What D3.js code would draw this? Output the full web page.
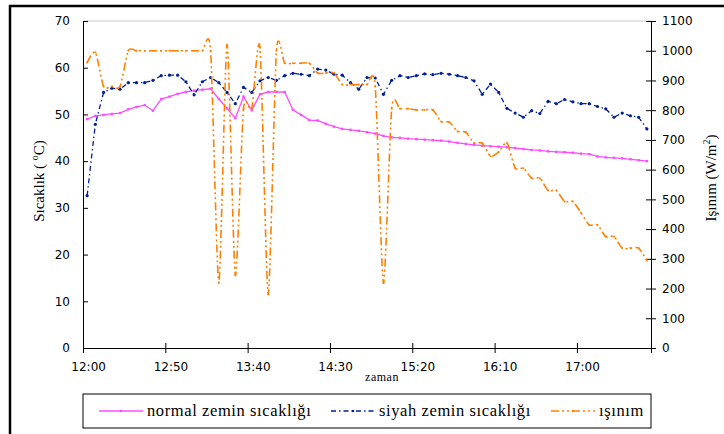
<!DOCTYPE html>
<html>
<head>
<meta charset="utf-8">
<script src="https://cdn.jsdelivr.net/npm/d3@7"></script>
<style>
  body { margin: 0; background: #fff; }
  svg { display: block; }
  .tick text { font-family: "DejaVu Sans", Verdana, sans-serif; font-size: 12px; fill: #000; }
  .domain, .tick line { stroke: #000; }
  .serif { font-family: "Liberation Serif", "Times New Roman", serif; fill: #000; }
</style>
</head>
<body>
<svg id="chart"></svg>
<script>
const width = 724;
const height = 434;

// x-axis labels shown every 10 categories (5 min steps)
const tickLabels = ["12:00", "12:50", "13:40", "14:30", "15:20", "16:10", "17:00"];

// normal zemin sıcaklığı (°C)
const normalTemp = [
  49.0, 49.7, 49.9, 50.1, 50.3, 51.1, 51.6, 52.0, 50.8, 53.3,
  53.8, 54.4, 54.8, 55.1, 55.3, 55.5, 53.3, 51.3, 49.2, 53.8,
  50.9, 54.3, 54.8, 54.8, 54.8, 51.0, 49.9, 48.8, 48.7, 48.0,
  47.4, 46.9, 46.7, 46.5, 46.2, 45.9, 45.4, 45.1, 45.0, 44.8,
  44.7, 44.6, 44.5, 44.4, 44.2, 43.9, 43.7, 43.5, 43.3, 43.2,
  43.1, 43.0, 42.8, 42.6, 42.4, 42.3, 42.1, 42.0, 41.9, 41.8,
  41.6, 41.5, 41.0, 40.8, 40.7, 40.6, 40.4, 40.2, 40.0
];

// siyah zemin sıcaklığı (°C)
const blackTemp = [
  32.6, 47.9, 54.7, 55.6, 55.4, 56.8, 56.8, 56.8, 57.3, 58.3,
  58.4, 58.4, 57.0, 54.2, 57.0, 57.9, 56.8, 54.7, 52.3, 55.8,
  54.7, 57.2, 57.9, 57.3, 58.3, 58.8, 58.6, 58.3, 59.7, 59.5,
  58.6, 58.4, 56.8, 55.4, 57.9, 57.8, 54.3, 57.3, 58.3, 57.9,
  58.3, 58.7, 58.5, 58.8, 58.6, 58.3, 57.9, 57.2, 54.3, 56.5,
  54.7, 51.3, 50.3, 49.4, 50.8, 50.2, 52.8, 52.3, 53.2, 52.7,
  52.3, 52.3, 51.7, 51.2, 49.4, 50.3, 49.7, 49.4, 46.9
];

// ışınım (W/m2)
const radiation = [
  960, 995, 880, 880, 880, 1000, 1000, 1000, 1000, 1000,
  1000, 1000, 1000, 1000, 1000, 1000, 219, 1020, 245, 805,
  805, 1010, 180, 1000, 958, 958, 958, 958, 925, 925,
  925, 886, 886, 886, 886, 880, 218, 805, 805, 805,
  801, 801, 801, 762, 760, 729, 726, 690, 689, 645,
  660, 690, 605, 605, 571, 571, 530, 530, 493, 493,
  455, 414, 414, 375, 375, 336, 336, 336, 294
];

const seriesNames = ["normal zemin sıcaklığı", "siyah zemin sıcaklığı", "ışınım"];
const colors = ["#ff4cff", "#001f96", "#ff8000"];
const dashes = [null, "5,3,1.5,3", "8,3,2,3,2,3"];

const plotLeft = 83, plotRight = 651, plotTop = 21, plotBottom = 348;

const categories = d3.range(normalTemp.length);

const svg = d3.select("#chart").attr("width", width).attr("height", height);

// outer frame
svg.append("path")
  .attr("d", "M10," + (height + 10) + "V6H" + (width + 10))
  .attr("fill", "none")
  .attr("stroke", "#000")
  .attr("stroke-width", 2.5);

const xBand = d3.scaleBand().domain(categories).range([plotLeft, plotRight]);
const xLin = d3.scaleLinear().domain([0, categories.length]).range([plotLeft, plotRight]);
const yLeft = d3.scaleLinear().domain([0, 70]).range([plotBottom, plotTop]);
const yRight = d3.scaleLinear().domain([0, 1100]).range([plotBottom, plotTop]);

const cx = (i) => xBand(i) + xBand.bandwidth() / 2;

// plot area top border
svg.append("line")
  .attr("x1", plotLeft).attr("x2", plotRight)
  .attr("y1", plotTop).attr("y2", plotTop)
  .attr("stroke", "#c8c8c8");

// axes
const xAxis = d3.axisBottom(xLin)
  .tickValues(d3.range(0, 61, 10))
  .tickFormat((d, i) => tickLabels[i])
  .tickSizeOuter(0)
  .tickSize(5)
  .tickPadding(9);

svg.append("g")
  .attr("transform", "translate(0," + plotBottom + ")")
  .call(xAxis)
  .call(g => g.selectAll(".tick line").attr("y1", -5).attr("y2", 5))
  .call(g => g.selectAll(".tick text").attr("dx", xBand.bandwidth() / 2 + 1));

svg.append("g")
  .attr("transform", "translate(" + plotLeft + ",0)")
  .call(d3.axisLeft(yLeft).tickValues(d3.range(0, 71, 10)).tickSize(5).tickSizeOuter(0).tickPadding(8))
  .call(g => g.selectAll(".tick line").attr("x2", 5));

svg.append("g")
  .attr("transform", "translate(" + plotRight + ",0)")
  .call(d3.axisRight(yRight).tickValues(d3.range(0, 1101, 100)).tickFormat(d3.format("d"))
    .tickSize(5).tickSizeOuter(0).tickPadding(6))
  .call(g => g.selectAll(".tick line").attr("x1", -5));

// axis titles
svg.append("text")
  .attr("class", "serif")
  .attr("transform", "translate(44,181) rotate(-90)")
  .attr("text-anchor", "middle")
  .attr("font-size", 15)
  .html('Sıcaklık ( <tspan dy="-6" font-size="10">o</tspan><tspan dy="6">C)</tspan>');

svg.append("text")
  .attr("class", "serif")
  .attr("transform", "translate(716,178) rotate(-90)")
  .attr("text-anchor", "middle")
  .attr("font-size", 15)
  .html('Işınım (W/m<tspan dy="-6" font-size="10">2</tspan><tspan dy="6">)</tspan>');

svg.append("text")
  .attr("class", "serif")
  .attr("x", 382).attr("y", 381)
  .attr("text-anchor", "middle")
  .attr("font-size", 12)
  .attr("letter-spacing", 0.5)
  .text("zaman");

// series
const lineLeft = d3.line().x((d, i) => cx(i)).y(d => yLeft(d));
const lineRight = d3.line().x((d, i) => cx(i)).y(d => yRight(d)).curve(d3.curveCardinal.tension(0.3));

svg.append("path")
  .attr("d", lineLeft(normalTemp))
  .attr("fill", "none")
  .attr("stroke", colors[0])
  .attr("stroke-width", 1.3);

svg.selectAll(".m0")
  .data(normalTemp)
  .enter()
  .append("rect")
  .attr("class", "m0")
  .attr("x", (d, i) => cx(i) - 1.2)
  .attr("y", d => yLeft(d) - 1.2)
  .attr("width", 2.4).attr("height", 2.4)
  .attr("fill", colors[0]);

svg.append("path")
  .attr("d", lineLeft(blackTemp))
  .attr("fill", "none")
  .attr("stroke", colors[1])
  .attr("stroke-width", 1.3)
  .attr("stroke-dasharray", dashes[1]);

svg.selectAll(".m1")
  .data(blackTemp)
  .enter()
  .append("circle")
  .attr("class", "m1")
  .attr("cx", (d, i) => cx(i))
  .attr("cy", d => yLeft(d))
  .attr("r", 1.6)
  .attr("fill", colors[1]);

svg.append("path")
  .attr("d", lineRight(radiation))
  .attr("fill", "none")
  .attr("stroke", colors[2])
  .attr("stroke-width", 1.6)
  .attr("stroke-dasharray", dashes[2]);

svg.selectAll(".m2")
  .data(radiation)
  .enter()
  .append("circle")
  .attr("class", "m2")
  .attr("cx", (d, i) => cx(i))
  .attr("cy", d => yRight(d))
  .attr("r", 1)
  .attr("fill", colors[2]);

// legend
const legend = svg.append("g");
legend.append("rect")
  .attr("x", 83).attr("y", 394)
  .attr("width", 568).attr("height", 34)
  .attr("fill", "#fff")
  .attr("stroke", "#000");

const legendX = [99, 331, 551];
seriesNames.forEach((name, i) => {
  const g = legend.append("g").attr("transform", "translate(" + legendX[i] + ",411)");
  g.append("line")
    .attr("x1", 0).attr("x2", 44)
    .attr("stroke", colors[i])
    .attr("stroke-width", 1.5)
    .attr("stroke-dasharray", dashes[i]);
  g.append("circle").attr("cx", 22).attr("r", 1.3).attr("fill", colors[i]);
  g.append("text")
    .attr("class", "serif")
    .attr("x", 48).attr("y", 5)
    .attr("font-size", 16.5)
    .attr("letter-spacing", 0.6)
    .text(name);
});
</script>
</body>
</html>
